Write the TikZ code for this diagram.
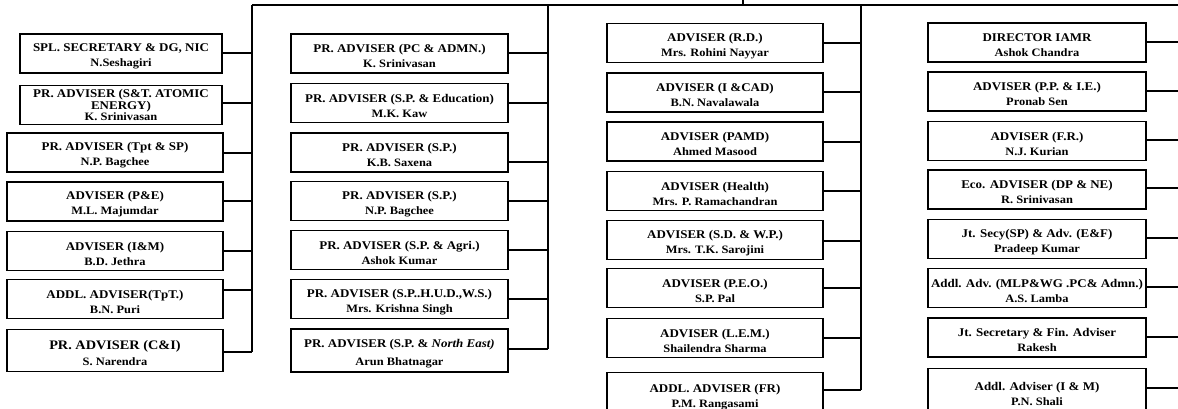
\documentclass[tikz,border=0pt]{standalone}
\usepackage{fontspec}
\setmainfont[FakeStretch=1.1]{Liberation Serif}
\newcommand{\nmf}{\fontsize{11.3}{15}\selectfont}
\newcommand{\st}{\rule{0pt}{14pt}}
\begin{document}
\begin{tikzpicture}[x=1pt,y=-1pt,
  box/.style={draw=black,line width=1.3pt,fill=white,inner sep=1pt,align=center,
    font=\bfseries\fontsize{11.8}{15}\selectfont,minimum height=39pt},
  boxa/.style={box,minimum width=202pt},
  boxb/.style={box,minimum width=216pt},
  boxc/.style={box,minimum width=217pt},
  boxd/.style={box,minimum width=218pt},
  wire/.style={draw=black,line width=1.3pt}]
\useasboundingbox (0,0) rectangle (1178,409);
\clip (0,0) rectangle (1178,409);
\fill[white] (0,0) rectangle (1178,409);
% bus coordinates
\coordinate (top) at (743,0);
\coordinate (tj) at (743,5);
\coordinate (tl) at (252,5);
\coordinate (tr) at (1178,5);
\coordinate (b2t) at (548,5);
\coordinate (b3t) at (861,5);
% column 1
\node[boxa] (a1) at (121,53.5) {\st SPL. SECRETARY \& DG, NIC\\{\nmf N.Seshagiri}};
\node[boxa,font=\bfseries\fontsize{11.8}{11.5}\selectfont,inner sep=0pt] (a2) at (121,105) {PR. ADVISER (S\&T. ATOMIC\\ENERGY)\\{\fontsize{11.3}{13}\selectfont K. Srinivasan}};
\node[boxb] (a3) at (115,152.5) {\st PR. ADVISER (Tpt \& SP)\\{\nmf N.P. Bagchee}};
\node[boxb] (a4) at (115,201.5) {\st ADVISER (P\&E)\\{\nmf M.L. Majumdar}};
\node[boxb] (a5) at (115,251) {\st ADVISER (I\&M)\\{\nmf B.D. Jethra}};
\node[boxb] (a6) at (115,299) {\st ADDL. ADVISER(TpT.)\\{\nmf B.N. Puri}};
\node[boxb,minimum height=42pt,font=\bfseries\fontsize{13}{16}\selectfont] (a7) at (115,350.5) {\st PR. ADVISER (C\&I)\\{\nmf S. Narendra}};
% column 1 bus
\coordinate (b1e) at (252,352);
\coordinate (j11) at (252,53);
\coordinate (j12) at (252,103);
\coordinate (j13) at (252,153);
\coordinate (j14) at (252,201);
\coordinate (j15) at (252,251);
\coordinate (j16) at (252,290);
\draw[wire] (tl) -- (b1e);
\draw[wire] (a1.east |- j11) -- (j11);
\draw[wire] (a2.east |- j12) -- (j12);
\draw[wire] (a3.east |- j13) -- (j13);
\draw[wire] (a4.east |- j14) -- (j14);
\draw[wire] (a5.east |- j15) -- (j15);
\draw[wire] (a6.east |- j16) -- (j16);
\draw[wire] (a7.east |- b1e) -- (b1e);
% column 2
\node[boxc] (b1) at (399.5,53.5) {\st PR. ADVISER (PC \& ADMN.)\\{\nmf K. Srinivasan}};
\node[boxc] (b2) at (399.5,103) {\st PR. ADVISER (S.P. \& Education)\\{\nmf M.K. Kaw}};
\node[boxc] (b3) at (399.5,152.5) {\st PR. ADVISER (S.P.)\\{\nmf K.B. Saxena}};
\node[boxc] (b4) at (399.5,201) {\st PR. ADVISER (S.P.)\\{\nmf N.P. Bagchee}};
\node[boxc] (b5) at (399.5,250) {\st PR. ADVISER (S.P. \& Agri.)\\{\nmf Ashok Kumar}};
\node[boxc] (b6) at (399.5,299) {\st PR. ADVISER (S.P..H.U.D.,W.S.)\\{\nmf Mrs. Krishna Singh}};
\node[boxc,minimum height=43pt,font=\bfseries\fontsize{11.8}{18}\selectfont] (b7) at (399.5,350.5) {\st PR. ADVISER (S.P. \& \textit{North East)}\\{\fontsize{11.3}{18}\selectfont Arun Bhatnagar}};
\coordinate (b2e) at (548,349);
\coordinate (j21) at (548,53);
\coordinate (j22) at (548,103);
\coordinate (j23) at (548,162);
\coordinate (j24) at (548,201);
\coordinate (j25) at (548,250);
\coordinate (j26) at (548,299);
\draw[wire] (b2t) -- (b2e);
\draw[wire] (b1.east |- j21) -- (j21);
\draw[wire] (b2.east |- j22) -- (j22);
\draw[wire] (b3.east |- j23) -- (j23);
\draw[wire] (b4.east |- j24) -- (j24);
\draw[wire] (b5.east |- j25) -- (j25);
\draw[wire] (b6.east |- j26) -- (j26);
\draw[wire] (b7.east |- b2e) -- (b2e);
% column 3
\node[boxb] (c1) at (715,43) {\st ADVISER (R.D.)\\{\nmf Mrs. Rohini Nayyar}};
\node[boxb] (c2) at (715,92.5) {\st ADVISER (I \&CAD)\\{\nmf B.N. Navalawala}};
\node[boxb] (c3) at (715,141.5) {\st ADVISER (PAMD)\\{\nmf Ahmed Masood}};
\node[boxb] (c4) at (715,191) {\st ADVISER (Health)\\{\nmf Mrs. P. Ramachandran}};
\node[boxb] (c5) at (715,240) {\st ADVISER (S.D. \& W.P.)\\{\nmf Mrs. T.K. Sarojini}};
\node[boxb] (c6) at (715,288) {\st ADVISER (P.E.O.)\\{\nmf S.P. Pal}};
\node[boxb] (c7) at (715,338) {\st ADVISER (L.E.M.)\\{\nmf Shailendra Sharma}};
\node[boxb,minimum height=44pt,anchor=north] (c8) at (715,372) {\st ADDL. ADVISER (FR)\\{\nmf P.M. Rangasami}};
\coordinate (b3e) at (861,390);
\coordinate (j31) at (861,43);
\coordinate (j32) at (861,92);
\coordinate (j33) at (861,142);
\coordinate (j34) at (861,191);
\coordinate (j35) at (861,241);
\coordinate (j36) at (861,288);
\coordinate (j37) at (861,338);
\draw[wire] (b3t) -- (b3e);
\draw[wire] (c1.east |- j31) -- (j31);
\draw[wire] (c2.east |- j32) -- (j32);
\draw[wire] (c3.east |- j33) -- (j33);
\draw[wire] (c4.east |- j34) -- (j34);
\draw[wire] (c5.east |- j35) -- (j35);
\draw[wire] (c6.east |- j36) -- (j36);
\draw[wire] (c7.east |- j37) -- (j37);
\draw[wire] (c8.east |- b3e) -- (b3e);
% column 4
\node[boxd] (d1) at (1037,42.5) {\st DIRECTOR IAMR\\{\nmf Ashok Chandra}};
\node[boxd] (d2) at (1037,91.5) {\st ADVISER (P.P. \& I.E.)\\{\nmf Pronab Sen}};
\node[boxd] (d3) at (1037,141) {\st ADVISER (F.R.)\\{\nmf N.J. Kurian}};
\node[boxd] (d4) at (1037,189.5) {\st Eco. ADVISER (DP \& NE)\\{\nmf R. Srinivasan}};
\node[boxd] (d5) at (1037,239) {\st Jt. Secy(SP) \& Adv. (E\&F)\\{\nmf Pradeep Kumar}};
\node[boxd,inner sep=0pt] (d6) at (1037,288) {\st Addl. Adv. (MLP\&WG .PC\& Admn.)\\{\nmf A.S. Lamba}};
\node[boxd] (d7) at (1037,337.5) {\st Jt. Secretary \& Fin. Adviser\\{\nmf Rakesh}};
\node[boxd,minimum height=44pt,anchor=north] (d8) at (1037,368) {\st Addl. Adviser (I \& M)\\{\nmf P.N. Shali}};
\coordinate (e1) at (1178,42);
\coordinate (e2) at (1178,91);
\coordinate (e3) at (1178,140);
\coordinate (e4) at (1178,188);
\coordinate (e5) at (1178,238);
\coordinate (e6) at (1178,287);
\coordinate (e7) at (1178,337);
\coordinate (e8) at (1178,388);
\foreach \i in {1,...,8} {\draw[wire] (d\i.east |- e\i) -- (e\i);}
% top line
\draw[wire] (tl) -- (tr);
\draw[wire] (top) -- (tj);
\end{tikzpicture}
\end{document}
